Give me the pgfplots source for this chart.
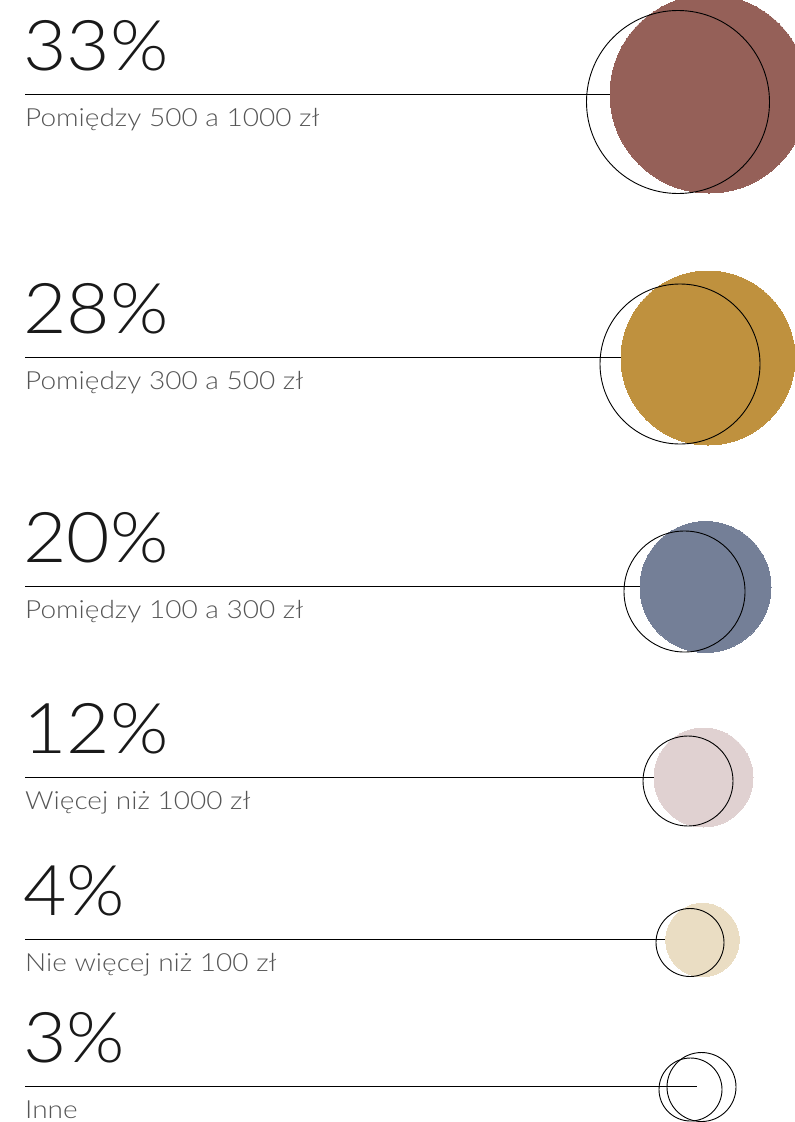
\documentclass[border=0pt]{standalone}
\usepackage{fontspec}
\setmainfont{Lato Light}
\newfontfamily\pctfont[FakeStretch=1.07]{Lato Light}
\newfontfamily\lblfont[FakeStretch=1.12]{Lato Light}
\usepackage{pgfplots}
\pgfplotsset{compat=1.18}
\definecolor{c1}{RGB}{149,96,88}
\definecolor{c2}{RGB}{191,145,62}
\definecolor{c3}{RGB}{116,127,151}
\definecolor{c4}{RGB}{224,209,209}
\definecolor{c5}{RGB}{234,221,195}
\definecolor{lbl}{RGB}{85,85,85}
\newcommand{\row}[3]{%
  \addplot[black, line width=0.9pt, mark=none] coordinates {(25,#1) (697,#1)};
  \node[anchor=base west, inner sep=0pt, font=\pctfont\fontsize{70}{70}\selectfont, text=black!90] at (axis cs:23,#1-24) {#2};
  \node[anchor=base west, inner sep=0pt, font=\lblfont\fontsize{25}{25}\selectfont, text=lbl] at (axis cs:25,#1+32) {#3};
}
\begin{document}
\begin{tikzpicture}
\begin{axis}[
  hide axis, scale only axis,
  width=795pt, height=1122pt,
  xmin=0, xmax=795, ymin=0, ymax=1122,
  y dir=reverse,
  clip marker paths=true,
]
\row{94}{33\%}{Pomiędzy 500 a 1000 zł}
\row{357}{28\%}{Pomiędzy 300 a 500 zł}
\row{586}{20\%}{Pomiędzy 100 a 300 zł}
\row{777}{12\%}{Więcej niż 1000 zł}
\row{939}{4\%}{Nie więcej niż 100 zł}
\row{1086}{3\%}{Inne}
% filled circles: centre, radius as mark size
\addplot[only marks, mark=*, mark size=99pt, mark options={draw=c1, fill=c1, line width=0pt}] coordinates {(709,94)};
\addplot[only marks, mark=*, mark size=87pt, mark options={draw=c2, fill=c2, line width=0pt}] coordinates {(708,358)};
\addplot[only marks, mark=*, mark size=65.5pt, mark options={draw=c3, fill=c3, line width=0pt}] coordinates {(705.5,587)};
\addplot[only marks, mark=*, mark size=49.5pt, mark options={draw=c4, fill=c4, line width=0pt}] coordinates {(703.5,777.5)};
\addplot[only marks, mark=*, mark size=36.7pt, mark options={draw=c5, fill=c5, line width=0pt}] coordinates {(702.5,940)};
% outline circles
\addplot[only marks, mark=o, mark size=91.5pt, mark options={draw=black, line width=0.9pt}] coordinates {(678,102)};
\addplot[only marks, mark=o, mark size=80pt, mark options={draw=black, line width=0.9pt}] coordinates {(680,364)};
\addplot[only marks, mark=o, mark size=60.5pt, mark options={draw=black, line width=0.9pt}] coordinates {(684.5,591.5)};
\addplot[only marks, mark=o, mark size=45pt, mark options={draw=black, line width=0.9pt}] coordinates {(688,781)};
\addplot[only marks, mark=o, mark size=34pt, mark options={draw=black, line width=0.9pt}] coordinates {(690,942.5)};
\addplot[only marks, mark=o, mark size=34.5pt, mark options={draw=black, line width=0.9pt}] coordinates {(701.5,1087)};
\addplot[only marks, mark=o, mark size=31.5pt, mark options={draw=black, line width=0.9pt}] coordinates {(690.5,1089.5)};
\end{axis}
\pgfresetboundingbox
\useasboundingbox (current axis.south west) rectangle (current axis.north east);
\end{tikzpicture}
\end{document}
